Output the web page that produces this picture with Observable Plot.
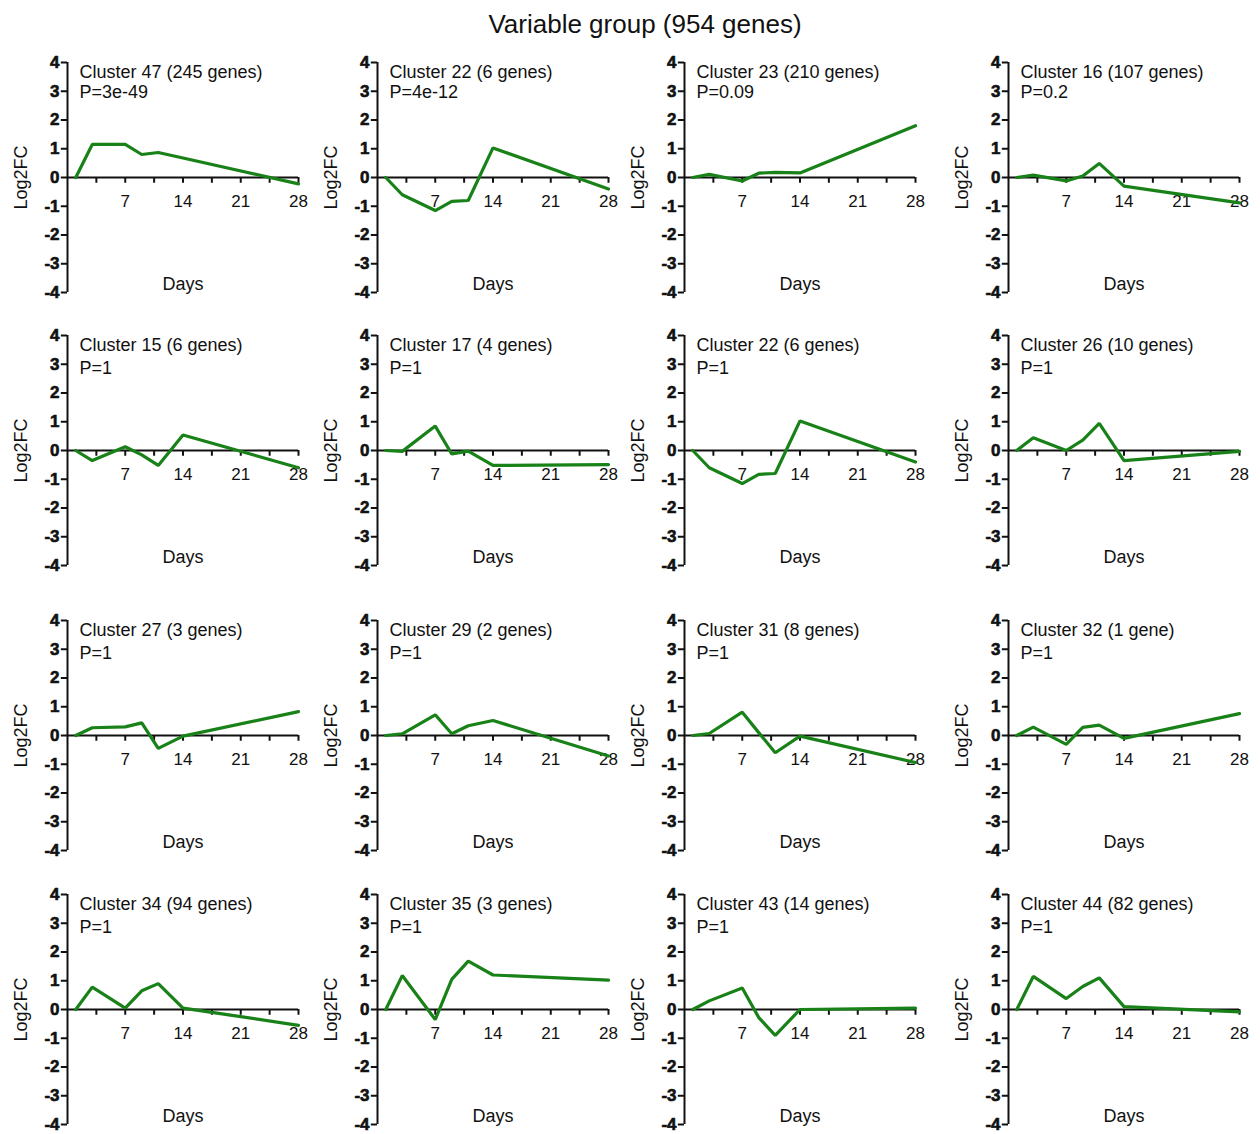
<!DOCTYPE html>
<html>
<head>
<meta charset="utf-8">
<script src="https://cdn.jsdelivr.net/npm/d3@7"></script>
<script src="https://cdn.jsdelivr.net/npm/@observablehq/plot@0.6"></script>
<style>
  html, body { margin: 0; padding: 0; background: #fff; }
  body { width: 1260px; height: 1134px; position: relative; font-family: "Liberation Sans", Arial, sans-serif; }
  #title { position: absolute; left: 0; top: 9px; width: 1290px; text-align: center; font-size: 26px; color: #111; }
  .panel { position: absolute; }
  .panel svg { overflow: visible; }
</style>
</head>
<body>
<div id="title">Variable group (954 genes)</div>
<div id="grid"></div>
<script>
// ---- data ----
const days = [1, 3, 7, 9, 11, 14, 28];
const xTicks = [3.5, 7, 10.5, 14, 17.5, 21, 24.5, 28];
const xTickLabels = [7, 14, 21, 28];
const yTicks = [-4, -3, -2, -1, 0, 1, 2, 3, 4];
const yLabel = "Log2FC";
const xLabel = "Days";

const clusterTitles = [
  "Cluster 47 (245 genes)", "Cluster 22 (6 genes)", "Cluster 23 (210 genes)", "Cluster 16 (107 genes)",
  "Cluster 15 (6 genes)", "Cluster 17 (4 genes)", "Cluster 22 (6 genes)", "Cluster 26 (10 genes)",
  "Cluster 27 (3 genes)", "Cluster 29 (2 genes)", "Cluster 31 (8 genes)", "Cluster 32 (1 gene)",
  "Cluster 34 (94 genes)", "Cluster 35 (3 genes)", "Cluster 43 (14 genes)", "Cluster 44 (82 genes)"
];
const pLabels = [
  "P=3e-49", "P=4e-12", "P=0.09", "P=0.2",
  "P=1", "P=1", "P=1", "P=1",
  "P=1", "P=1", "P=1", "P=1",
  "P=1", "P=1", "P=1", "P=1"
];

const cluster47 = [0, 1.15, 1.15, 0.8, 0.87, 0.68, -0.22];
const cluster22a = [0, -0.6, -1.15, -0.83, -0.8, 1.03, -0.4];
const cluster23 = [0, 0.11, -0.12, 0.15, 0.18, 0.16, 1.8];
const cluster16 = [0, 0.08, -0.12, 0.05, 0.49, -0.3, -0.88];
const cluster15 = [0, -0.35, 0.13, -0.15, -0.52, 0.54, -0.6];
const cluster17 = [0, -0.03, 0.85, -0.12, -0.02, -0.52, -0.49];
const cluster22b = [0, -0.6, -1.15, -0.83, -0.8, 1.03, -0.4];
const cluster26 = [0, 0.44, 0, 0.36, 0.94, -0.35, -0.03];
const cluster27 = [0, 0.27, 0.3, 0.44, -0.45, -0.02, 0.83];
const cluster29 = [0, 0.06, 0.72, 0.06, 0.34, 0.52, -0.71];
const cluster31 = [0, 0.07, 0.81, 0.1, -0.6, -0.02, -0.94];
const cluster32 = [0, 0.29, -0.31, 0.28, 0.36, -0.1, 0.76];
const cluster34 = [0, 0.78, 0.05, 0.65, 0.9, 0.05, -0.55];
const cluster35 = [0, 1.18, -0.35, 1.05, 1.68, 1.2, 1.02];
const cluster43 = [0, 0.3, 0.75, -0.28, -0.9, 0, 0.05];
const cluster44 = [0, 1.15, 0.38, 0.8, 1.1, 0.1, -0.08];

const seriesList = [
  cluster47, cluster22a, cluster23, cluster16,
  cluster15, cluster17, cluster22b, cluster26,
  cluster27, cluster29, cluster31, cluster32,
  cluster34, cluster35, cluster43, cluster44
];

// ---- layout ----
const marginLeft = 62, marginRight = 16, marginTop = 6, marginBottom = 6;
const axisX = [67, 377, 684, 1008];
const topY = [62, 335, 620, 894];
const green = "#188118";
const ink = "#111";

const grid = document.getElementById("grid");
seriesList.forEach((vals, i) => {
  const r = Math.floor(i / 4), c = i % 4;
  const data = days.map((d, k) => ({day: d, v: vals[k]}));
  const svg = Plot.plot({
    width: marginLeft + 231 + marginRight,
    height: marginTop + 230 + marginBottom,
    marginLeft, marginRight, marginTop, marginBottom,
    style: {fontFamily: "'Liberation Sans', Arial, sans-serif", fontSize: "16px", color: ink, background: "white", overflow: "visible"},
    x: {domain: [0, 28], axis: null},
    y: {domain: [-4, 4], axis: null},
    marks: [
      // y axis line, ticks, labels
      Plot.ruleX([0], {y1: -4, y2: 4, stroke: ink, strokeWidth: 2}),
      Plot.ruleY(yTicks, {y: d => d, x1: 0, x2: -0.75, stroke: ink, strokeWidth: 2}),
      Plot.text(yTicks, {x: 0, y: d => d, dx: -8, text: d => String(d), textAnchor: "end", fontWeight: "bold", fontSize: 17, fill: ink, stroke: ink, strokeWidth: 0.6}),
      Plot.text([yLabel], {x: 0, y: 0, dx: -46, rotate: -90, text: d => d, fontSize: 18, fill: ink}),
      // x axis at y = 0
      Plot.ruleY([0], {x1: 0, x2: 28, stroke: ink, strokeWidth: 2}),
      Plot.ruleX(xTicks, {x: d => d, y1: 0, y2: -0.2, stroke: ink, strokeWidth: 2}),
      Plot.text(xTickLabels, {x: d => d, y: 0, dy: 24, text: d => String(d), fontSize: 17, fill: ink}),
      // series
      Plot.line(data, {x: "day", y: "v", stroke: green, strokeWidth: 3.2, strokeLinejoin: "miter"}),
      // annotations
      Plot.text([clusterTitles[i]], {x: 0, y: 3.65, dx: 12, text: d => d, textAnchor: "start", fontSize: 18, fill: ink}),
      Plot.text([pLabels[i]], {x: 0, y: r === 0 ? 2.95 : 2.85, dx: 12, text: d => d, textAnchor: "start", fontSize: 18, fill: ink}),
      Plot.text([xLabel], {x: 14, y: -3.72, text: d => d, fontSize: 18, fill: ink})
    ]
  });
  const div = document.createElement("div");
  div.className = "panel";
  div.style.left = (axisX[c] - marginLeft) + "px";
  div.style.top = (topY[r] - marginTop) + "px";
  div.appendChild(svg);
  grid.appendChild(div);
});
</script>
</body>
</html>
